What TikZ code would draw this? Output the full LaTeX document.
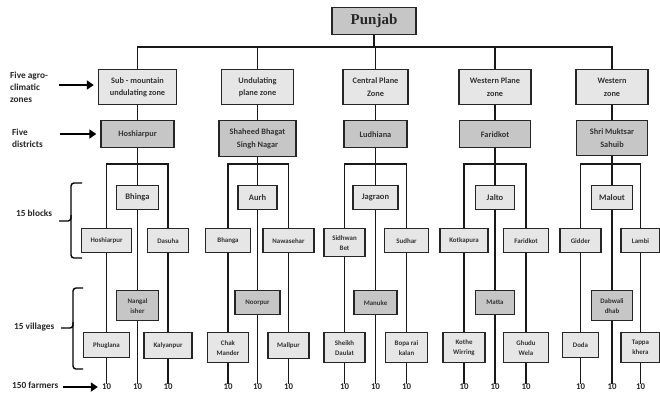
\documentclass[tikz,border=0pt]{standalone}
\usepackage{fontspec}
\setmainfont{Carlito}
\newfontfamily\serifbold{Liberation Serif}
\usetikzlibrary{arrows.meta,backgrounds}
\definecolor{lightbox}{HTML}{E6E6E6}
\definecolor{midbox}{HTML}{C6C6C6}
\definecolor{txt}{HTML}{333333}
\tikzset{
  box/.style={draw=black!85, line width=1.4pt, inner sep=1pt, align=center, text=txt, anchor=north},
  zonebox/.style={box, fill=lightbox, font=\bfseries\fontsize{8.3}{12.5}\selectfont, minimum height=35pt},
  distbox/.style={box, fill=midbox, font=\bfseries\fontsize{8.3}{12.5}\selectfont},
  topblock/.style={box, fill=lightbox, font=\bfseries\fontsize{8.5}{11}\selectfont, minimum height=24pt},
  sidebox/.style={box, fill=lightbox, font=\bfseries\fontsize{6.9}{10}\selectfont},
  midvil/.style={box, fill=midbox, font=\bfseries\fontsize{6.9}{10}\selectfont},
  link/.style={line width=1.5pt, draw=black!90},
  lab/.style={font=\bfseries\fontsize{9.3}{12}\selectfont, align=left, anchor=west, inner sep=0pt, text=black!85},
  num/.style={font=\bfseries\fontsize{8.8}{10}\selectfont, inner sep=0pt, text=black!85},
  pointer/.style={line width=1.8pt, -{Triangle[length=7pt,width=9pt]}, shorten >=4pt},
  bracepath/.style={line width=1.4pt, rounded corners=3pt},
}
\begin{document}
\begin{tikzpicture}[x=1pt,y=-1pt]
\useasboundingbox (0,0) rectangle (660,392);
\coordinate (bar) at (0,47);
\coordinate (brk) at (0,164);
% Punjab
\node[box, fill=midbox, font=\serifbold\bfseries\fontsize{15}{16}\selectfont, text=black!85, minimum width=84pt, minimum height=27pt] (punjab) at (374,7) {Punjab};
% zones
\node[zonebox, minimum width=78pt] (z1) at (137.5,69) {Sub - mountain\\undulating zone};
\node[zonebox, minimum width=72pt] (z2) at (257.5,69) {Undulating\\plane zone};
\node[zonebox, minimum width=65pt] (z3) at (375.5,69) {Central Plane\\Zone};
\node[zonebox, minimum width=72pt] (z4) at (495,69) {Western Plane\\zone};
\node[zonebox, minimum width=72pt] (z5) at (612,69) {Western\\zone};
% districts
\node[distbox, minimum width=73pt, minimum height=27pt] (d1) at (137.5,120) {Hoshiarpur};
\node[distbox, minimum width=77pt, minimum height=36pt] (d2) at (257.5,120) {Shaheed Bhagat\\Singh Nagar};
\node[distbox, minimum width=63pt, minimum height=27pt] (d3) at (375.5,120) {Ludhiana};
\node[distbox, minimum width=71pt, minimum height=27pt] (d4) at (495,120) {Faridkot};
\node[distbox, minimum width=71pt, minimum height=35pt] (d5) at (612,120) {Shri Muktsar\\Sahuib};
% top blocks
\node[topblock, minimum width=42pt] (b1) at (137.5,185) {Bhinga};
\node[topblock, minimum width=39pt] (b2) at (257.5,185) {Aurh};
\node[topblock, minimum width=45pt] (b3) at (375.5,185) {Jagraon};
\node[topblock, minimum width=39pt] (b4) at (495,185) {Jalto};
\node[topblock, minimum width=41pt] (b5) at (612,185) {Malout};
% side blocks
\node[sidebox, minimum width=50pt, minimum height=24pt] (s1l) at (106.5,228) {Hoshiarpur};
\node[sidebox, minimum width=41pt, minimum height=24pt] (s1r) at (168,228) {Dasuha};
\node[sidebox, minimum width=45pt, minimum height=24pt] (s2l) at (228,228) {Bhanga};
\node[sidebox, minimum width=51pt, minimum height=24pt] (s2r) at (288.5,228) {Nawasehar};
\node[sidebox, minimum width=41pt, minimum height=28pt] (s3l) at (344.5,228) {Sidhwan\\Bet};
\node[sidebox, minimum width=44pt, minimum height=24pt] (s3r) at (406.5,228) {Sudhar};
\node[sidebox, minimum width=48pt, minimum height=24pt] (s4l) at (464,228) {Kotkapura};
\node[sidebox, minimum width=45pt, minimum height=24pt] (s4r) at (526,228) {Faridkot};
\node[sidebox, minimum width=41pt, minimum height=24pt] (s5l) at (580.5,228) {Gidder};
\node[sidebox, minimum width=39pt, minimum height=24pt] (s5r) at (640.5,228) {Lambi};
% middle villages
\node[midvil, minimum width=42pt, minimum height=30pt] (m1) at (137.5,290) {Nangal\\isher};
\node[midvil, minimum width=45pt, minimum height=24pt] (m2) at (257.5,290) {Noorpur};
\node[midvil, minimum width=43pt, minimum height=24pt] (m3) at (375.5,290) {Manuke};
\node[midvil, minimum width=39pt, minimum height=24pt] (m4) at (495,290) {Matta};
\node[midvil, minimum width=41pt, minimum height=30pt] (m5) at (612,290) {Dabwali\\dhab};
% bottom villages
\node[sidebox, minimum width=46pt, minimum height=25pt] (v1l) at (106.5,332) {Phuglana};
\node[sidebox, minimum width=48pt, minimum height=26pt] (v1r) at (168,332) {Kalyanpur};
\node[sidebox, minimum width=41pt, minimum height=30pt] (v2l) at (228,332) {Chak\\Mander};
\node[sidebox, minimum width=41pt, minimum height=26pt] (v2r) at (288.5,332) {Mallpur};
\node[sidebox, minimum width=41pt, minimum height=30pt] (v3l) at (344.5,332) {Sheikh\\Daulat};
\node[sidebox, minimum width=42pt, minimum height=30pt] (v3r) at (406.5,332) {Bopa rai\\kalan};
\node[sidebox, minimum width=42pt, minimum height=30pt] (v4l) at (464,332) {Kothe\\Wirring};
\node[sidebox, minimum width=45pt, minimum height=30pt] (v4r) at (526,332) {Ghudu\\Wela};
\node[sidebox, minimum width=36pt, minimum height=25pt] (v5l) at (580.5,332) {Doda};
\node[sidebox, minimum width=39pt, minimum height=30pt] (v5r) at (640.5,332) {Tappa\\khera};
% numbers
\foreach \n/\x in {n1l/106.5,n1c/137.5,n1r/168,n2l/228,n2c/257.5,n2r/288.5,n3l/344.5,n3c/375.5,n3r/406.5,n4l/464,n4c/495,n4r/526,n5l/580.5,n5c/612,n5r/640.5}
  \node[num] (\n) at (\x,387) {10};
% left labels
\node[lab] (lz) at (10,87) {Five agro-\\climatic\\zones};
\node[lab] (ld) at (12,138) {Five\\districts};
\node[lab] (lb) at (16,213) {15 blocks};
\node[lab] (lv) at (14,327) {15 villages};
\node[lab] (lf) at (12,385) {150 farmers};
\coordinate (az) at (59,85);
\coordinate (ad) at (60,134);
\coordinate (af) at (63,387);
\draw[pointer] (az) -- (z1.west |- az);
\draw[pointer] (ad) -- (d1.west |- ad);
\draw[pointer] (af) -- (n1l.west |- af);
% braces
\draw[bracepath] (82,183) -- (71,183) -- (71,221) -- (59,221);
\draw[bracepath] (71,215) -- (71,221) -- (71,258) -- (82,258);
\draw[bracepath] (83,288) -- (73,288) -- (73,328) -- (61,328);
\draw[bracepath] (73,322) -- (73,328) -- (73,369) -- (83,369);
% connectors
\begin{scope}[on background layer]
\draw[link] (punjab.south) -- (punjab.south |- bar);
\draw[link] (z1.north) |- (bar -| z3.north) -| (z5.north);
\foreach \z in {z2,z3,z4} \draw[link] (\z.north) -- (\z.north |- bar);
\foreach \i in {1,...,5} {
  \draw[link] (z\i) -- (d\i);
  \draw[link] (d\i) -- (b\i);
  \draw[link] (b\i) -- (m\i);
  \draw[link] (m\i.south) -- (n\i c.north);
  \draw[link] (s\i l.north) |- (brk -| b\i.north) -| (s\i r.north);
  \draw[link] (s\i l) -- (v\i l);
  \draw[link] (s\i r) -- (v\i r);
  \draw[link] (v\i l.south) -- (n\i l.north);
  \draw[link] (v\i r.south) -- (n\i r.north);
}
\end{scope}
\end{tikzpicture}
\end{document}
